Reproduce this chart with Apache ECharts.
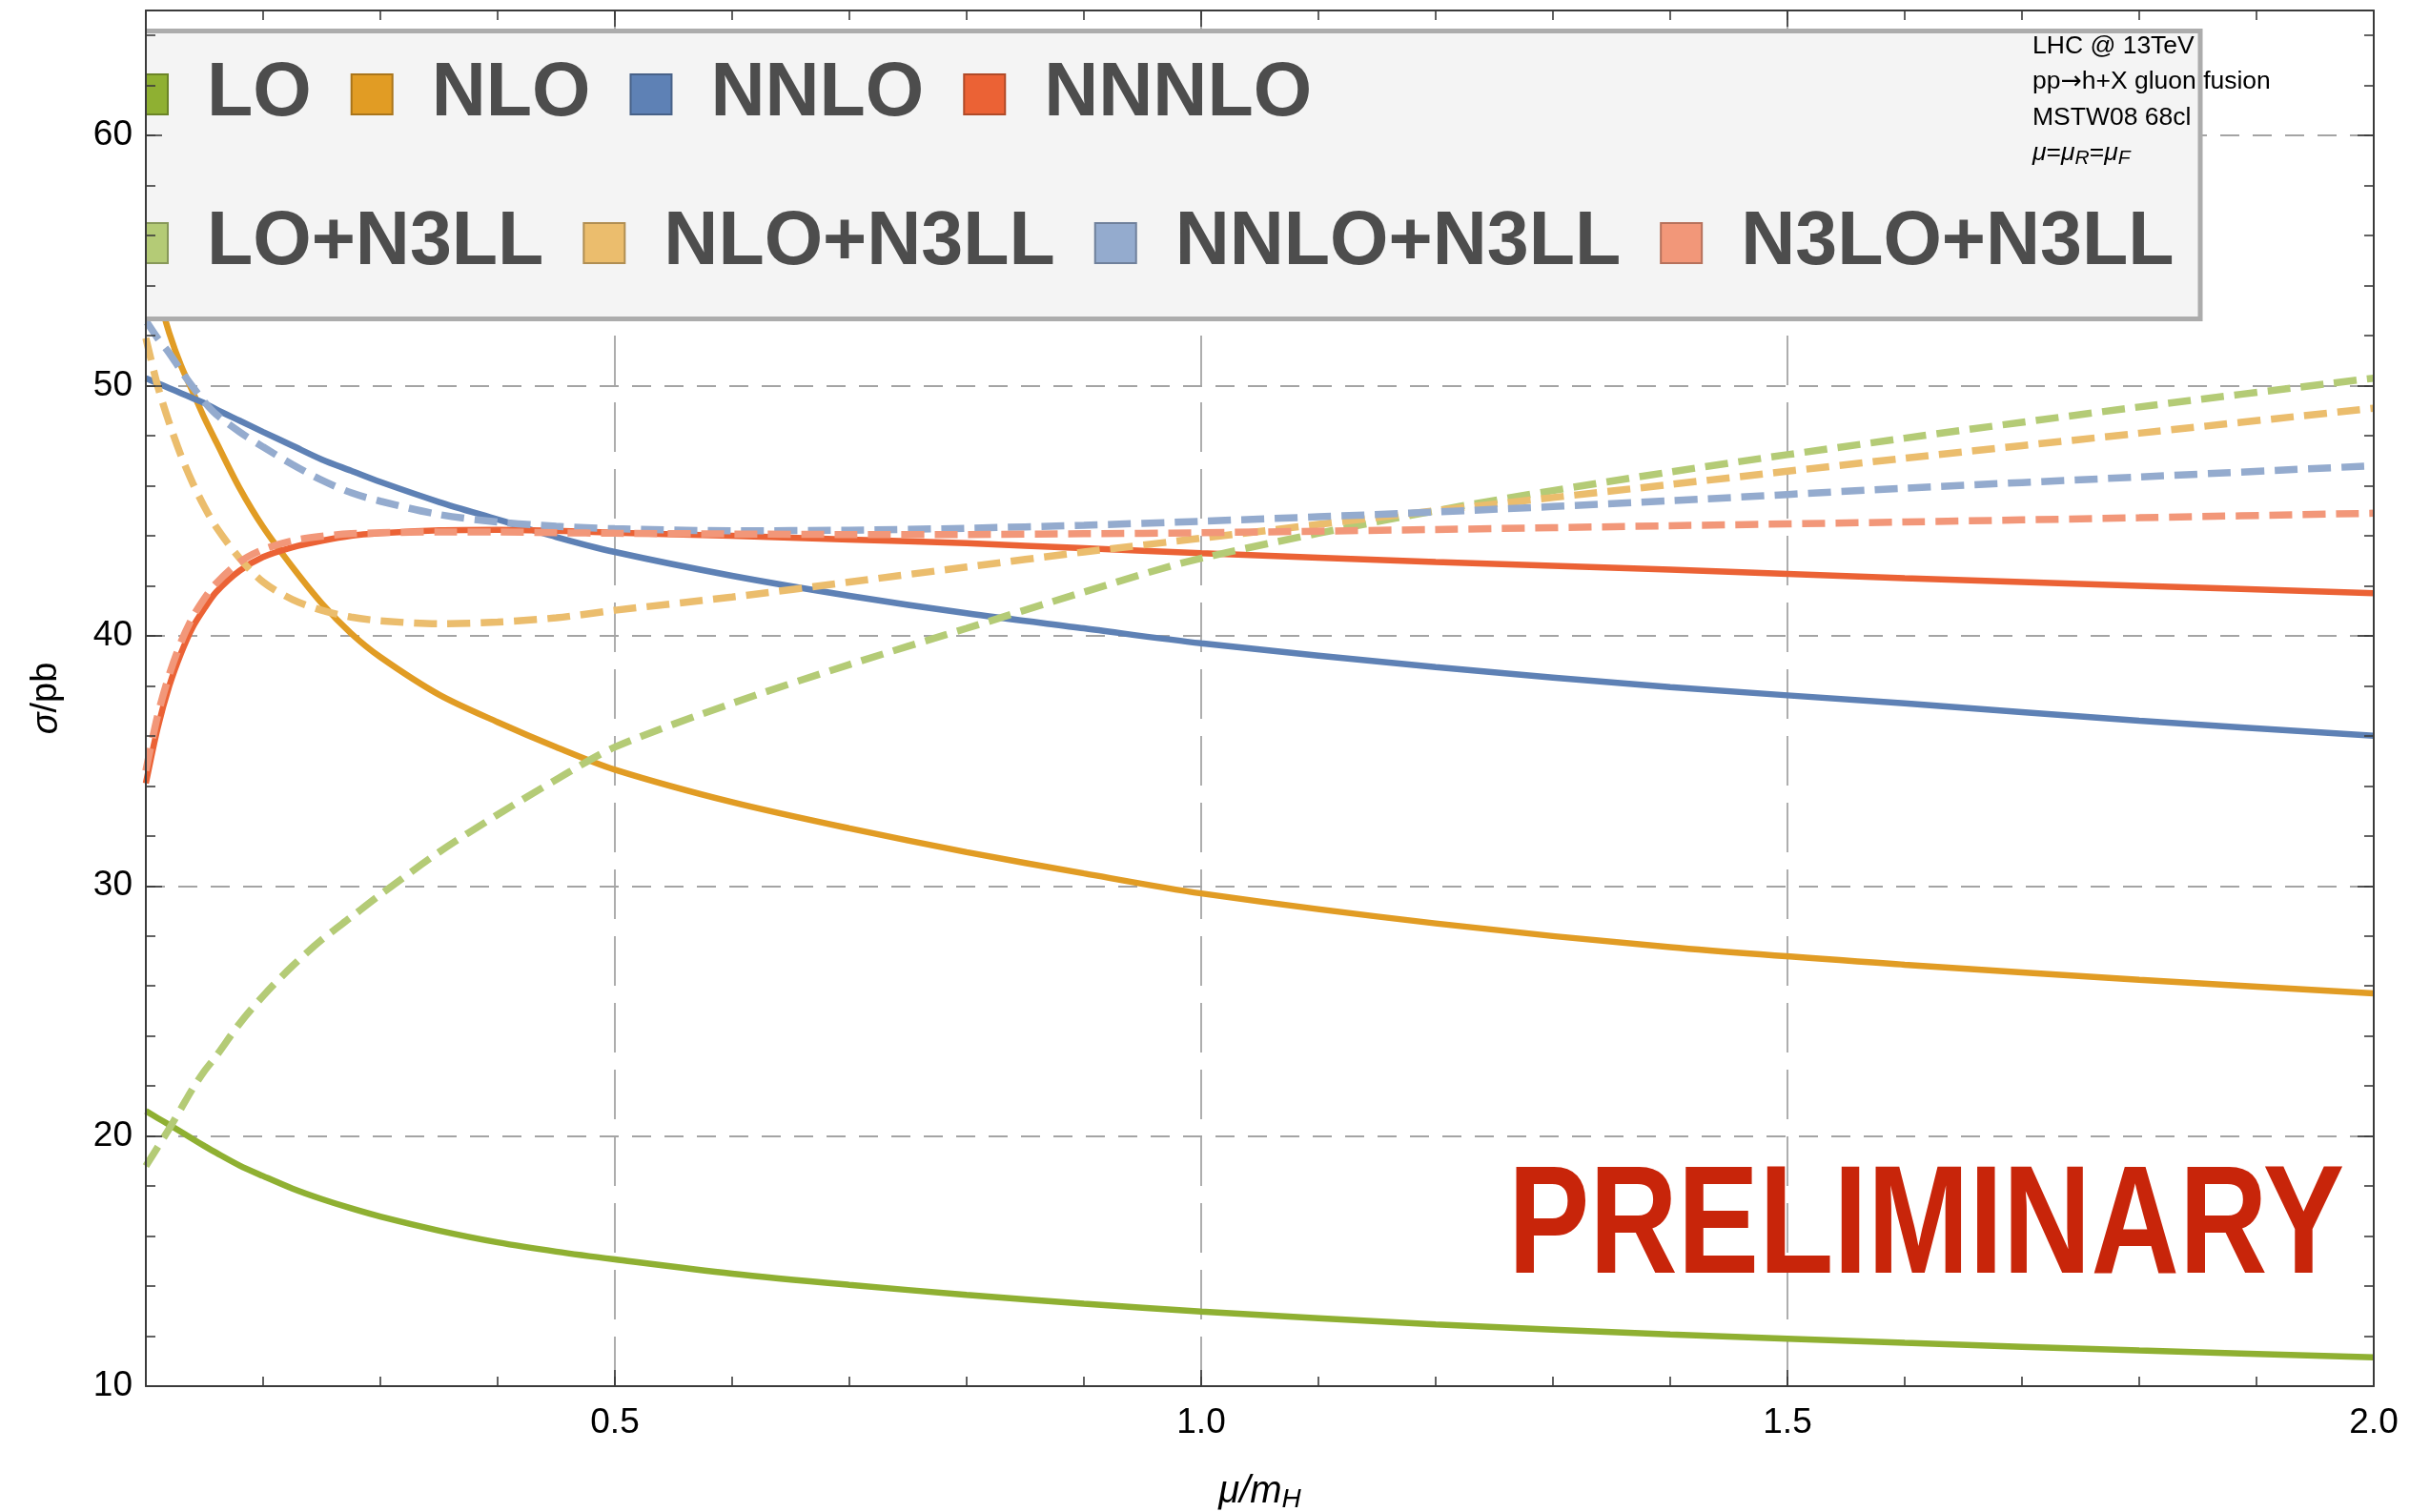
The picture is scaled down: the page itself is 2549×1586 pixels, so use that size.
<!DOCTYPE html>
<html>
<head>
<meta charset="utf-8">
<title>Gluon fusion Higgs cross section vs. scale</title>
<script src="https://cdn.jsdelivr.net/npm/echarts@6/dist/echarts.min.js"></script>
<style>
  html, body { margin: 0; padding: 0; background: #ffffff; }
  #chart { width: 2549px; height: 1586px; }
</style>
</head>
<body>
<div id="chart"></div>
<script>
// Scale ratio mu / m_H
const muRatio = [0.1, 0.11, 0.12, 0.13, 0.14, 0.15, 0.16, 0.18, 0.2, 0.225, 0.25, 0.275, 0.3, 0.35, 0.4, 0.45, 0.5, 0.6, 0.7, 0.8, 0.9, 1.0, 1.2, 1.4, 1.6, 1.8, 2.0];

// Fixed-order cross sections, pb
const sigmaLO    = [21.0, 20.72, 20.45, 20.17, 19.88, 19.6, 19.33, 18.82, 18.4, 17.9, 17.48, 17.11, 16.78, 16.22, 15.75, 15.38, 15.07, 14.5, 14.05, 13.65, 13.3, 12.98, 12.47, 12.07, 11.73, 11.43, 11.15];
const sigmaNLO   = [55.3, 53.7, 52.1, 50.8, 49.75, 48.7, 47.75, 45.9, 44.35, 42.75, 41.3, 40.1, 39.15, 37.65, 36.55, 35.55, 34.65, 33.35, 32.3, 31.35, 30.5, 29.7, 28.5, 27.55, 26.85, 26.25, 25.7];
const sigmaNNLO  = [50.3, 50.1, 49.9, 49.7, 49.5, 49.3, 49.05, 48.6, 48.15, 47.6, 47.05, 46.6, 46.15, 45.35, 44.65, 43.95, 43.35, 42.4, 41.6, 40.9, 40.3, 39.7, 38.75, 37.95, 37.3, 36.6, 36.0];
const sigmaNNNLO = [34.1, 36.3, 38.0, 39.3, 40.35, 41.1, 41.75, 42.6, 43.15, 43.54, 43.8, 44.0, 44.1, 44.22, 44.24, 44.2, 44.12, 44.0, 43.85, 43.7, 43.5, 43.3, 42.95, 42.65, 42.3, 42.0, 41.7];

// Matched to N3LL threshold resummation, pb
const sigmaLOres   = [18.8, 19.55, 20.3, 21.1, 21.9, 22.6, 23.2, 24.5, 25.6, 26.8, 27.85, 28.75, 29.65, 31.35, 32.85, 34.25, 35.55, 37.3, 38.85, 40.3, 41.75, 43.1, 45.0, 46.55, 47.9, 49.15, 50.3];
const sigmaNLOres  = [51.9, 50.0, 48.5, 47.2, 46.1, 45.15, 44.35, 43.1, 42.15, 41.45, 41.02, 40.75, 40.6, 40.48, 40.55, 40.72, 41.02, 41.55, 42.15, 42.75, 43.35, 43.9, 45.0, 46.05, 47.1, 48.1, 49.1];
const sigmaNNLOres = [52.6, 51.9, 51.3, 50.6, 49.95, 49.35, 48.85, 48.15, 47.55, 46.85, 46.22, 45.72, 45.38, 44.85, 44.55, 44.38, 44.28, 44.2, 44.22, 44.3, 44.42, 44.58, 44.95, 45.4, 45.9, 46.35, 46.8];
const sigmaN3LOres = [34.6, 36.8, 38.45, 39.75, 40.75, 41.5, 42.1, 42.95, 43.45, 43.8, 43.98, 44.08, 44.12, 44.15, 44.15, 44.12, 44.1, 44.07, 44.05, 44.05, 44.08, 44.12, 44.25, 44.4, 44.55, 44.72, 44.9];

// Series names, in legend order
const fixedOrderNames = ['LO', 'NLO', 'NNLO', 'NNNLO'];
const resummedNames   = ['LO+N3LL', 'NLO+N3LL', 'NNLO+N3LL', 'N3LO+N3LL'];

// Axis ticks and grid positions
const xMajorTicks = [0.5, 1.0, 1.5, 2.0];
const xGridLines  = [0.5, 1.0, 1.5];
const yGridLines  = [20, 30, 40, 50, 60];

// Annotation text
const infoLines = ['LHC @ 13TeV', 'pp{a|\u2192}h+X gluon fusion', 'MSTW08 68cl'];
const stampText = 'PRELIMINARY';

// Palette: full colours for fixed order, lightened for resummed
const solidColors  = ['#8FB032', '#E19C24', '#5E81B5', '#EB6235'];
const solidEdges   = ['#6B8426', '#A9751B', '#476188', '#B04A28'];
const dashedColors = ['#B4CB76', '#EBBD6D', '#94ABCE', '#F29779'];
const dashedEdges  = ['#879859', '#B08E52', '#6F809B', '#B6715B'];

const FONT = '"Liberation Sans", Arial, Helvetica, sans-serif';
const FRAME = '#3b3b3b';

function pairs(values) {
  return muRatio.map((x, i) => [x, values[i]]);
}

function curve(name, values, color, dashed) {
  return {
    name: name,
    type: 'line',
    xAxisIndex: 0,
    yAxisIndex: 0,
    data: pairs(values),
    showSymbol: false,
    symbol: 'none',
    smooth: 0.3,
    silent: true,
    z: 2,
    color: color,
    itemStyle: { color: color },
    lineStyle: {
      color: color,
      width: dashed ? 7.5 : 6.5,
      type: dashed ? [24, 11] : 'solid',
      cap: 'butt'
    },
    emphasis: { disabled: true }
  };
}

const seriesList = [
  curve('LO', sigmaLO, solidColors[0], false),
  curve('NLO', sigmaNLO, solidColors[1], false),
  curve('NNLO', sigmaNNLO, solidColors[2], false),
  curve('NNNLO', sigmaNNNLO, solidColors[3], false),
  curve('LO+N3LL', sigmaLOres, dashedColors[0], true),
  curve('NLO+N3LL', sigmaNLOres, dashedColors[1], true),
  curve('NNLO+N3LL', sigmaNNLOres, dashedColors[2], true),
  curve('N3LO+N3LL', sigmaN3LOres, dashedColors[3], true),
  // dashed grid, kept beneath the curves
  {
    type: 'line',
    xAxisIndex: 0,
    yAxisIndex: 0,
    data: [],
    silent: true,
    z: 1,
    markLine: {
      silent: true,
      z: 1,
      animation: false,
      symbol: ['none', 'none'],
      label: { show: false },
      emphasis: { disabled: true },
      lineStyle: { color: '#a4a4a4', width: 2 },
      data: [
        ...xGridLines.map(v => ({ xAxis: v, lineStyle: { color: '#9a9a9a', width: 1.6, type: [52, 18] } })),
        ...yGridLines.map(v => ({ yAxis: v, lineStyle: { color: '#a4a4a4', width: 2, type: [20, 14] } }))
      ]
    }
  }
];

function legendRow(names, colors, edges, top) {
  return {
    data: names.map((n, i) => ({
      name: n,
      icon: 'rect',
      itemStyle: { color: colors[i], borderColor: edges[i], borderWidth: 2 }
    })),
    left: 132,
    top: top,
    orient: 'horizontal',
    padding: 0,
    itemWidth: 43,
    itemHeight: 42,
    itemGap: 41,
    selectedMode: false,
    z: 4,
    textStyle: {
      fontFamily: FONT,
      fontSize: 79,
      fontWeight: 'bold',
      color: '#4d4d4d',
      lineHeight: 42,
      padding: [0, 0, 0, 36]
    }
  };
}

const xCommon = { type: 'value', min: 0.1, max: 2.0, gridIndex: 0, z: 6, splitLine: { show: false } };
const yCommon = { type: 'value', min: 10, max: 65, gridIndex: 0, z: 6, splitLine: { show: false } };
const tickLine = { color: FRAME, width: 1.6 };

const option = {
  animation: false,
  backgroundColor: '#ffffff',
  grid: { left: 153, right: 59, top: 11, bottom: 132, containLabel: false, outerBoundsMode: 'none' },
  xAxis: [
    Object.assign({}, xCommon, {
      position: 'bottom',
      axisLine: { show: true, onZero: false, lineStyle: { color: FRAME, width: 2 } },
      axisTick: { show: true, inside: true, length: 17, customValues: xMajorTicks, lineStyle: tickLine },
      axisLabel: {
        show: true, customValues: xMajorTicks, margin: 20,
        fontFamily: FONT, fontSize: 37, color: '#000000',
        formatter: v => Number(v).toFixed(1)
      },
      name: '{i|\u03bc/m}{s|H}',
      nameLocation: 'middle',
      nameGap: 89,
      nameTextStyle: {
        fontFamily: FONT, fontSize: 40, color: '#000000',
        rich: {
          i: { fontFamily: FONT, fontSize: 40, fontStyle: 'italic', color: '#000000', lineHeight: 44 },
          s: { fontFamily: FONT, fontSize: 28, fontStyle: 'italic', color: '#000000', lineHeight: 26, verticalAlign: 'bottom' }
        }
      }
    }),
    Object.assign({}, xCommon, {
      position: 'bottom', interval: 0.1,
      axisLine: { show: false, onZero: false },
      axisTick: { show: true, inside: true, length: 10, lineStyle: tickLine },
      axisLabel: { show: false }
    }),
    Object.assign({}, xCommon, {
      position: 'top',
      axisLine: { show: true, onZero: false, lineStyle: { color: FRAME, width: 2 } },
      axisTick: { show: true, inside: true, length: 17, customValues: xMajorTicks, lineStyle: tickLine },
      axisLabel: { show: false }
    }),
    Object.assign({}, xCommon, {
      position: 'top', interval: 0.1,
      axisLine: { show: false, onZero: false },
      axisTick: { show: true, inside: true, length: 10, lineStyle: tickLine },
      axisLabel: { show: false }
    })
  ],
  yAxis: [
    Object.assign({}, yCommon, {
      position: 'left', interval: 10,
      axisLine: { show: true, onZero: false, lineStyle: { color: FRAME, width: 2 } },
      axisTick: { show: true, inside: true, length: 17, lineStyle: tickLine },
      axisLabel: { show: true, margin: 14, fontFamily: FONT, fontSize: 37, color: '#000000', showMaxLabel: false },
      name: '{i|\u03c3}/pb',
      nameLocation: 'middle',
      nameGap: 85,
      nameTextStyle: {
        fontFamily: FONT, fontSize: 38, color: '#000000',
        rich: { i: { fontFamily: FONT, fontSize: 38, fontStyle: 'italic', color: '#000000' } }
      }
    }),
    Object.assign({}, yCommon, {
      position: 'left', interval: 2,
      axisLine: { show: false, onZero: false },
      axisTick: { show: true, inside: true, length: 10, lineStyle: tickLine },
      axisLabel: { show: false }
    }),
    Object.assign({}, yCommon, {
      position: 'right', interval: 10,
      axisLine: { show: true, onZero: false, lineStyle: { color: FRAME, width: 2 } },
      axisTick: { show: true, inside: true, length: 17, lineStyle: tickLine },
      axisLabel: { show: false }
    }),
    Object.assign({}, yCommon, {
      position: 'right', interval: 2,
      axisLine: { show: false, onZero: false },
      axisTick: { show: true, inside: true, length: 10, lineStyle: tickLine },
      axisLabel: { show: false }
    })
  ],
  legend: [
    legendRow(fixedOrderNames, solidColors, solidEdges, 59.5),
    legendRow(resummedNames, dashedColors, dashedEdges, 215.5)
  ],
  graphic: [
    // legend panel
    { type: 'rect', z: 3, silent: true,
      shape: { x: 143, y: 32.5, width: 2165, height: 302 },
      style: { fill: '#f4f4f4', stroke: '#acacac', lineWidth: 5 } },
    // the panel and first swatches are cut at the left frame
    { type: 'rect', z: 5, silent: true, shape: { x: 137, y: 28, width: 15.5, height: 312 }, style: { fill: '#ffffff' } },
    { type: 'rect', z: 5, silent: true, shape: { x: 96, y: 60, width: 56.5, height: 68 }, style: { fill: '#ffffff' } },
    { type: 'rect', z: 5, silent: true, shape: { x: 96, y: 218, width: 56.5, height: 72 }, style: { fill: '#ffffff' } },
    // process information
    ...infoLines.map((t, i) => ({
      type: 'text', z: 5, silent: true, x: 2132, y: 48.5 + 37.5 * i,
      style: {
        text: t, fontFamily: FONT, fontSize: 26.5, fill: '#000000', align: 'left', verticalAlign: 'middle',
        rich: { a: { fontFamily: '"DejaVu Sans", sans-serif', fontSize: 26.5, fill: '#000000' } }
      }
    })),
    { type: 'text', z: 5, silent: true, x: 2132, y: 161,
      style: {
        text: '{i|\u03bc}{n|=}{i|\u03bc}{s|R}{n|=}{i|\u03bc}{s|F}',
        fontFamily: FONT, fontSize: 26.5, fill: '#000000', align: 'left', verticalAlign: 'middle',
        rich: {
          i: { fontFamily: FONT, fontSize: 26.5, fontStyle: 'italic', fill: '#000000', lineHeight: 32 },
          n: { fontFamily: FONT, fontSize: 26.5, fill: '#000000', lineHeight: 32 },
          s: { fontFamily: FONT, fontSize: 21, fontStyle: 'italic', fill: '#000000', lineHeight: 16, verticalAlign: 'bottom' }
        }
      } },
    // draft stamp
    { type: 'text', z: 5, silent: true, x: 1582, y: 1291, scaleX: 0.795,
      style: { text: stampText, fontFamily: FONT, fontSize: 161, fontWeight: 'bold', fill: '#C8250A', align: 'left', verticalAlign: 'middle' } }
  ],
  series: seriesList
};

const chart = echarts.init(document.getElementById('chart'), null, { renderer: 'canvas' });
chart.setOption(option);
</script>
</body>
</html>
